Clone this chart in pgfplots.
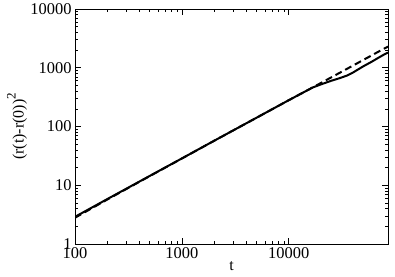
\documentclass[border=0pt]{standalone}
\usepackage{fontspec}
\setmainfont{Liberation Serif}
\usepackage{pgfplots}
\pgfplotsset{compat=1.18}

\begin{document}
\begin{tikzpicture}
\useasboundingbox (-75bp,-33bp) rectangle (320bp,244bp);
\begin{axis}[
    scale only axis,
    width=313bp, height=235bp,
    xmode=log, ymode=log,
    xmin=100, xmax=85000,
    ymin=1, ymax=10000,
    log ticks with fixed point,
    /pgf/number format/1000 sep={},
    /pgf/number format/assume math mode=true,
    tick label style={font=\fontsize{16.5}{18}\selectfont},
    label style={font=\fontsize{16}{18}\selectfont},
    major tick length=6bp,
    minor tick length=3bp,
    tick style={black, line width=0.6bp},
    axis line style={line width=0.8bp},
    xlabel={t},
    ylabel={(r(t)-r(0))\raisebox{1.1ex}{\fontsize{13}{13}\selectfont 2}},
    xlabel style={at={(axis description cs:0.5,-0.095)}, anchor=center},
    ylabel style={at={(axis description cs:-0.185,0.5)}, anchor=center},
    xtick={100,1000,10000},
    ytick={1,10,100,1000,10000},
]
\addplot[black, line width=2bp] coordinates {
 (100,2.9) (200,5.8) (500,14.4) (1000,28.6) (2000,57) (5000,141)
 (10000,280) (16700,460) (20000,520) (25000,600) (30000,665)
 (35000,735) (40000,830) (50000,1060) (60000,1270) (70000,1500)
 (80000,1720) (85000,1810)
};
\addplot[black, line width=2bp, dash pattern=on 7bp off 4bp] coordinates {
 (100,2.8) (200,5.7) (500,14.3) (1000,28.5) (2000,57) (5000,141)
 (10000,280) (16700,460) (20000,550) (30000,820) (40000,1090)
 (50000,1360) (60000,1630) (70000,1900) (85000,2290)
};
\end{axis}
\end{tikzpicture}
\end{document}
